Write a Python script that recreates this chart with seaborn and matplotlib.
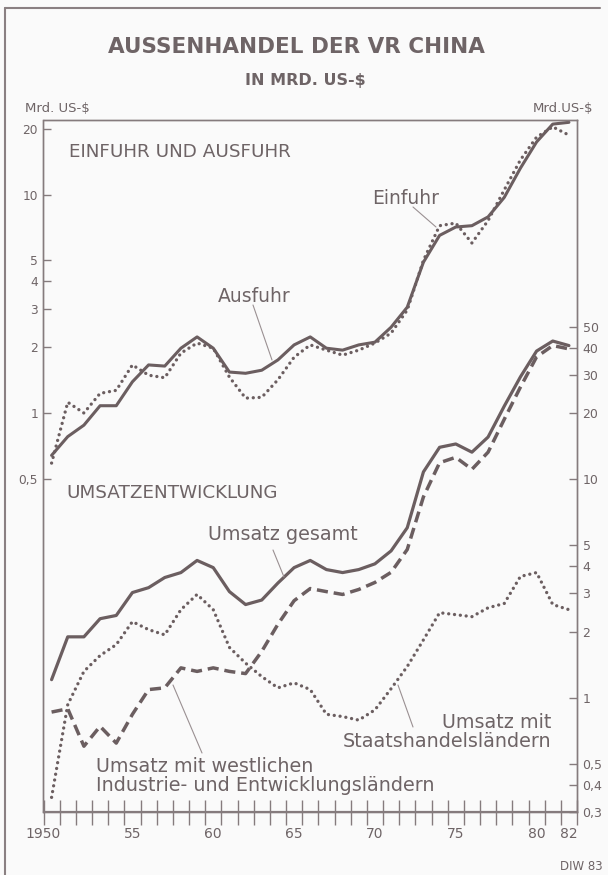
import numpy as np
import pandas as pd
import matplotlib
matplotlib.use("Agg")
import matplotlib.pyplot as plt
import seaborn as sns
from matplotlib.ticker import NullLocator, FixedLocator
from matplotlib.lines import Line2D

# ---------------- data ----------------
years = list(range(1950, 1983))
ausfuhr = [0.64, 0.78, 0.88, 1.08, 1.08, 1.39, 1.66, 1.64, 1.98, 2.23, 1.98, 1.54, 1.52,
           1.57, 1.75, 2.05, 2.23, 1.98, 1.94, 2.05, 2.11, 2.47, 3.05, 4.9, 6.5, 7.1,
           7.2, 7.9, 9.7, 13.2, 17.4, 21.0, 21.4]
einfuhr = [0.59, 1.12, 1.00, 1.23, 1.27, 1.66, 1.49, 1.45, 1.88, 2.09, 1.98, 1.46, 1.17,
           1.18, 1.42, 1.80, 2.05, 1.94, 1.84, 1.94, 2.09, 2.32, 2.96, 5.0, 7.2, 7.4,
           6.0, 7.6, 10.5, 14.4, 18.3, 20.4, 18.7]
umsatz_gesamt = [1.21, 1.90, 1.90, 2.30, 2.38, 3.03, 3.19, 3.55, 3.74, 4.25, 3.94, 3.06,
                 2.67, 2.80, 3.35, 3.94, 4.25, 3.86, 3.74, 3.86, 4.10, 4.70, 6.0, 10.8,
                 14.0, 14.5, 13.3, 15.6, 21.6, 29.4, 38.6, 42.9, 40.9]
umsatz_westlich = [0.86, 0.89, 0.60, 0.74, 0.62, 0.84, 1.09, 1.11, 1.37, 1.32, 1.37, 1.32,
                   1.29, 1.63, 2.17, 2.78, 3.16, 3.06, 2.97, 3.13, 3.37, 3.75, 4.77, 8.3,
                   11.9, 12.6, 11.1, 13.3, 18.8, 26.4, 36.3, 40.9, 39.5]
umsatz_staat = [0.35, 0.93, 1.32, 1.56, 1.75, 2.23, 2.05, 1.94, 2.53, 2.97, 2.53, 1.70,
                1.44, 1.25, 1.11, 1.17, 1.09, 0.84, 0.82, 0.79, 0.88, 1.10, 1.39, 1.84,
                2.45, 2.40, 2.35, 2.58, 2.70, 3.59, 3.74, 2.67, 2.53]

x_tick_pos = [1949.5, 1955, 1960, 1965, 1970, 1975, 1980, 1982]
x_tick_lab = ["1950", "55", "60", "65", "70", "75", "80", "82"]
left_ticks = [0.5, 1, 2, 3, 4, 5, 10, 20]
left_lab = ["0,5", "1", "2", "3", "4", "5", "10", "20"]
right_ticks = [0.3, 0.4, 0.5, 1, 2, 3, 4, 5, 10, 20, 30, 40, 50]
right_lab = ["0,3", "0,4", "0,5", "1", "2", "3", "4", "5", "10", "20", "30", "40", "50"]

df = pd.DataFrame({"Jahr": years, "Ausfuhr": ausfuhr, "Einfuhr": einfuhr,
                   "Gesamt": umsatz_gesamt, "West": umsatz_westlich, "Staat": umsatz_staat})

# ---------------- style ----------------
sns.set_theme(style="white")
plt.rcParams["font.family"] = ["DejaVu Sans"]
LINE = "#6b5e60"
TXT = "#6e6466"
AX = "#857b7d"
BG = "#fafafa"

W, H = 608, 875
fig = plt.figure(figsize=(W / 100, H / 100), dpi=100, facecolor=BG)

def fx(px):
    return px / W

def fy(py):
    return 1 - py / H

L, R, T, B = 43.5, 577.0, 120.0, 812.0
ax = fig.add_axes([fx(L), fy(B), fx(R) - fx(L), fy(T) - fy(B)])
ax.set_facecolor(BG)
ax2 = ax.twinx()

dot = (0, (0.01, 1.75))
dash = (0, (3.2, 1.7))

sns.lineplot(data=df, x="Jahr", y="Ausfuhr", ax=ax, color=LINE, linewidth=2.2)
sns.lineplot(data=df, x="Jahr", y="Einfuhr", ax=ax, color=LINE, linewidth=2.4,
             linestyle=dot, dash_capstyle="round")
sns.lineplot(data=df, x="Jahr", y="Gesamt", ax=ax2, color=LINE, linewidth=2.3)
sns.lineplot(data=df, x="Jahr", y="West", ax=ax2, color=LINE, linewidth=2.5,
             linestyle=dash, dash_capstyle="butt")
sns.lineplot(data=df, x="Jahr", y="Staat", ax=ax2, color=LINE, linewidth=2.4,
             linestyle=dot, dash_capstyle="round")

for a in (ax, ax2):
    a.set_yscale("log")
    a.set_xlabel("")
    a.set_ylabel("")
    for s in a.spines.values():
        s.set_color(AX)
        s.set_linewidth(1.0)

ax.set_ylim(0.01493, 21.93)
ax2.set_ylim(0.3, 440.6)
ax.set_xlim(1949.5, 1982.5)

# left y axis
ax.yaxis.set_major_locator(FixedLocator(left_ticks))
ax.set_yticklabels(left_lab)
ax.yaxis.set_minor_locator(NullLocator())
ax.tick_params(axis="y", which="major", direction="in", length=6, width=1.0,
               color=AX, labelcolor=TXT, labelsize=8.8, pad=4, left=True, right=False)

# right y axis
ax2.yaxis.set_major_locator(FixedLocator(right_ticks))
ax2.set_yticklabels(right_lab)
ax2.yaxis.set_minor_locator(NullLocator())
ax2.tick_params(axis="y", which="major", direction="in", length=6, width=1.0,
                color=AX, labelcolor=TXT, labelsize=9, pad=4, right=True, left=False)

# x axis
ax.xaxis.remove_overlapping_locs = False
ax.set_xticks(x_tick_pos)
ax.set_xticklabels(x_tick_lab)
ax.set_xticks(np.arange(1949.5, 1983.0, 1.0), minor=True)
ax.tick_params(axis="x", which="major", length=0, labelsize=10, labelcolor=TXT, pad=11)
ax.tick_params(axis="x", which="minor", direction="inout", length=18, width=1.0,
               color=AX, bottom=True)
ax.spines["bottom"].set_linewidth(1.6)
ax.grid(False)
ax2.grid(False)

# ---------------- texts ----------------
def t(px, py, s, **kw):
    kw.setdefault("color", TXT)
    kw.setdefault("va", "center")
    fig.text(fx(px), fy(py), s, **kw)

t(296, 47, "AUSSENHANDEL DER VR CHINA", ha="center", fontsize=15.5, fontweight="bold")
t(305, 80, "IN MRD. US-$", ha="center", fontsize=11.5, fontweight="bold")
t(25, 108, "Mrd. US-$", ha="left", fontsize=9.5)
t(533, 109, "Mrd.US-$", ha="left", fontsize=9.5)
t(69, 152, "EINFUHR UND AUSFUHR", ha="left", fontsize=13.2)
t(66, 493, "UMSATZENTWICKLUNG", ha="left", fontsize=13.2)
t(372, 198, "Einfuhr", ha="left", fontsize=13.5)
t(218, 297, "Ausfuhr", ha="left", fontsize=13.5)
t(208, 535, "Umsatz gesamt", ha="left", fontsize=13.8)
t(96, 776, "Umsatz mit westlichen\nIndustrie- und Entwicklungsländern", ha="left",
  fontsize=13.8, linespacing=0.95)
t(551, 732, "Umsatz mit\nStaatshandelsländern", ha="right", fontsize=13.8,
  linespacing=1.0, multialignment="right")
t(560, 867, "DIW 83", ha="left", fontsize=8.5)

# leader lines
for (x0, y0, x1, y1) in [(413, 207, 436, 227), (253, 305, 272, 360), (273, 550, 284, 577),
                         (202, 753, 173, 685), (413, 727, 398, 685)]:
    fig.add_artist(Line2D([fx(x0), fx(x1)], [fy(y0), fy(y1)], color="#9a9092", lw=0.8))

# outer frame (left and top)
fig.add_artist(Line2D([fx(5), fx(5)], [fy(8), fy(875)], color="#8a8082", lw=1.5))
fig.add_artist(Line2D([fx(5), fx(600)], [fy(8), fy(8)], color="#8a8082", lw=1.5))

fig.savefig("out.png", dpi=100, facecolor=BG)
